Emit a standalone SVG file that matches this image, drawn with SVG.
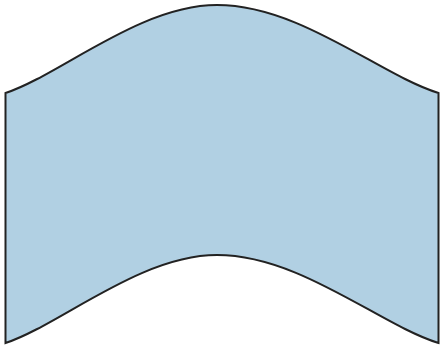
<svg xmlns="http://www.w3.org/2000/svg" width="440" height="349" viewBox="0 0 440 349">
<style>.s{fill:#b1d0e3;stroke:#222;stroke-width:2;stroke-linejoin:miter}</style>
<g id="shape">
<path class="s" d="M5.5,93 C60,75 140,5 217,5 C300,5 380,75 438.5,93 L438.5,343 C380,325 300,255 217,255 C140,255 60,325 5.5,343 Z"/>
</g>
</svg>
